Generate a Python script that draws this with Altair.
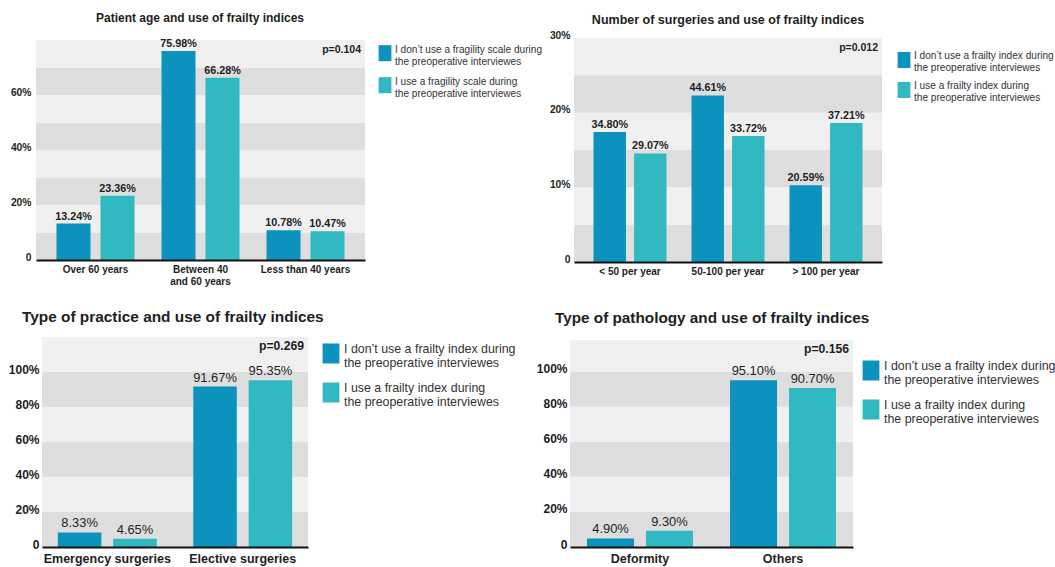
import altair as alt
import numpy as np
import pandas as pd

FONT = "Liberation Sans, Arial, sans-serif"
DARK = "#0b93bd"
TEAL = "#30b9c1"
BAND_DARK = "#dedede"
BAND_LIGHT = "#f0f0f0"
TXT = "#1e1e1e"

# ---------------- data ----------------
age_cats = ["Over 60 years", "Between 40|and 60 years", "Less than 40 years"]
age_no = [13.24, 75.98, 10.78]
age_yes = [23.36, 66.28, 10.47]
age_series = ["I don’t use a fragility scale during|the preoperative interviewes",
              "I use a fragility scale during|the preoperative interviewes"]

surg_cats = ["< 50 per year", "50-100 per year", "> 100 per year"]
surg_no = [34.80, 44.61, 20.59]
surg_yes = [29.07, 33.72, 37.21]

prac_cats = ["Emergency surgeries", "Elective surgeries"]
prac_no = [8.33, 91.67]
prac_yes = [4.65, 95.35]

path_cats = ["Deformity", "Others"]
path_no = [4.90, 95.10]
path_yes = [9.30, 90.70]

index_series = ["I don’t use a frailty index during|the preoperative interviewes",
                "I use a frailty index during|the preoperative interviewes"]

titles = ["Patient age and use of frailty indices",
          "Number of surgeries and use of frailty indices",
          "Type of practice and use of frailty indices",
          "Type of pathology and use of frailty indices"]
p_values = ["p=0.104", "p=0.012", "p=0.269", "p=0.156"]

W, H = 1055, 567


def panel(idx, cats, no, yes, series, dom, ticks, band, box, pads, legend_pos,
          sym, sym_size, fs, title_pos, bar_scale=1.0):
    x0, x1, ytop, ybot = box
    xpi, xpo, opi = pads
    rows = []
    for c, a, b in zip(cats, no, yes):
        rows.append({"cat": c, "ser": series[0], "v": a})
        rows.append({"cat": c, "ser": series[1], "v": b})
    df = pd.DataFrame(rows)

    starts = np.arange(0, dom[1], band)
    bands = pd.DataFrame({
        "b0": starts,
        "b1": np.minimum(starts + band, dom[1]),
        "col": [BAND_DARK if i % 2 == 0 else BAND_LIGHT for i in range(len(starts))],
    })

    yscale = alt.Scale(domain=dom, range=[ybot, ytop], nice=False, zero=True)
    yaxis = alt.Axis(title=None, orient="left", offset=-x0, values=ticks,
                     labelExpr="datum.value == 0 ? '0' : datum.value + '%'",
                     domain=False, ticks=False, grid=False,
                     labelFont=FONT, labelFontSize=fs["ylab"], labelFontWeight="bold",
                     labelColor=TXT, labelPadding=fs["ypad"], labelOffset=-3, zindex=2)
    xaxis = alt.Axis(title=None, orient="bottom", offset=ybot - H, labelAngle=0,
                     labelFont=FONT, labelFontSize=fs["xlab"], labelFontWeight="bold",
                     labelColor=TXT, domainColor="#111", domainWidth=2, ticks=False,
                     labelPadding=fs["xpad"], labelExpr="split(datum.label, '|')",
                     labelLimit=0, labelLineHeight=fs["xlab"] + 2, zindex=2)

    bg = alt.Chart(bands).mark_rect().encode(
        y=alt.Y("b0:Q", scale=yscale, axis=yaxis),
        y2="b1:Q",
        x=alt.value(x0), x2=alt.value(x1),
        fill=alt.Fill("col:N", scale=None),
    )

    xenc = alt.X("cat:N", sort=cats, axis=xaxis,
                 scale=alt.Scale(range=[x0, x1], paddingInner=xpi, paddingOuter=xpo))
    xoff = alt.XOffset("ser:N", sort=series,
                       scale=alt.Scale(paddingInner=opi, paddingOuter=0))
    yenc = alt.Y("h:Q", scale=yscale, axis=yaxis)
    base = alt.Chart(df).transform_calculate(
        h=f"datum.v * {bar_scale}",
        lab="format(datum.v, '.2f') + '%'",
    )
    lx, ly = legend_pos
    bars = base.mark_bar().encode(
        x=xenc, xOffset=xoff, y=yenc,
        color=alt.Color("ser:N", scale=alt.Scale(domain=series, range=[DARK, TEAL]),
                        legend=alt.Legend(
                            title=None, orient="none", legendX=lx, legendY=ly,
                            labelExpr="split(datum.label, '|')",
                            symbolType=sym, symbolSize=sym_size,
                            symbolStrokeWidth=0, symbolOpacity=1,
                            labelFont=FONT, labelFontSize=fs["leg"], labelColor="#333",
                            labelLimit=0, labelOffset=fs["legoff"],
                            rowPadding=fs["legrow"],
                        )),
    )
    labels = base.mark_text(baseline="bottom", dy=-2, font=FONT,
                            fontSize=fs["val"], fontWeight=fs["valw"], color=TXT).encode(
        x=xenc, xOffset=xoff, y=yenc,
        text="lab:N",
    )
    pdf = pd.DataFrame({"t": [p_values[idx]]})
    ptxt = alt.Chart(pdf).mark_text(
        align="right", baseline="top", font=FONT, fontSize=fs["p"],
        fontWeight="bold", color=TXT
    ).encode(text="t:N", x=alt.value(x1 - 4), y=alt.value(ytop + fs["py"]))

    tx, ty, talign = title_pos
    tdf = pd.DataFrame({"t": [titles[idx]]})
    ttxt = alt.Chart(tdf).mark_text(
        align=talign, baseline="alphabetic", font=FONT, fontSize=fs["title"],
        fontWeight="bold", color=TXT
    ).encode(text="t:N", x=alt.value(tx), y=alt.value(ty))

    return alt.layer(bg, bars, labels, ptxt, ttxt)


small = {"ylab": 10.3, "ypad": 5, "xlab": 10, "xpad": 4, "leg": 10.1, "legrow": 6,
         "legoff": 2, "val": 10.8, "valw": "bold", "p": 10.5, "py": 5, "title": 12}
small2 = dict(small, title=12.5, legrow=4, ypad=4)
large = {"ylab": 12, "ypad": 3, "xlab": 12.5, "xpad": 5, "leg": 12.4, "legrow": 8,
         "legoff": 3, "val": 12.9, "valw": "normal", "p": 12.2, "py": 3, "title": 15.4}
large4 = dict(large, title=15.3)

# custom symbol paths (normalised to [-1, 1]); slightly lowered to span both lines
rect_small = "M-0.8,-0.6L0.8,-0.6L0.8,1.4L-0.8,1.4Z"
rect_small2 = "M-0.8,-0.5L0.8,-0.5L0.8,1.5L-0.8,1.5Z"
rect_large = "M-0.84,-0.55L0.84,-0.55L0.84,1.45L-0.84,1.45Z"

p1 = panel(0, age_cats, age_no, age_yes, age_series, [0, 80], [0, 20, 40, 60], 10,
           (36, 365, 40, 260), (0.257, 0.195, 0.227), (377, 42),
           rect_small, 256, small, (200, 22, "center"))
p2 = panel(1, surg_cats, surg_no, surg_yes, index_series, [0, 30], [0, 10, 20, 30], 5,
           (574, 882, 38, 262), (0.255, 0.199, 0.2), (896, 48),
           rect_small2, 256, small2, (728, 24, "center"), bar_scale=0.5)
p3 = panel(2, prac_cats, prac_no, prac_yes, index_series, [0, 120],
           [0, 20, 40, 60, 80, 100], 20,
           (42, 308, 337, 547), (0.27, 0.117, 0.214), (321, 339),
           rect_large, 400, large, (22, 322, "left"))
p4 = panel(3, path_cats, path_no, path_yes, index_series, [0, 118],
           [0, 20, 40, 60, 80, 100], 20,
           (570, 853, 340, 547), (0.259, 0.119, 0.203), (861, 356),
           rect_large, 400, large4, (555, 323, "left"))

chart = alt.layer(p1, p2, p3, p4).resolve_scale(
    x="independent", y="independent", color="independent", xOffset="independent"
).resolve_axis(x="independent", y="independent").resolve_legend(
    color="independent"
).properties(
    width=W, height=H,
    autosize=alt.AutoSizeParams(type="none"),
    padding=0,
    background="white",
).configure_view(stroke=None)

chart.save("out.html", embed_options={"renderer": "svg", "actions": False})
